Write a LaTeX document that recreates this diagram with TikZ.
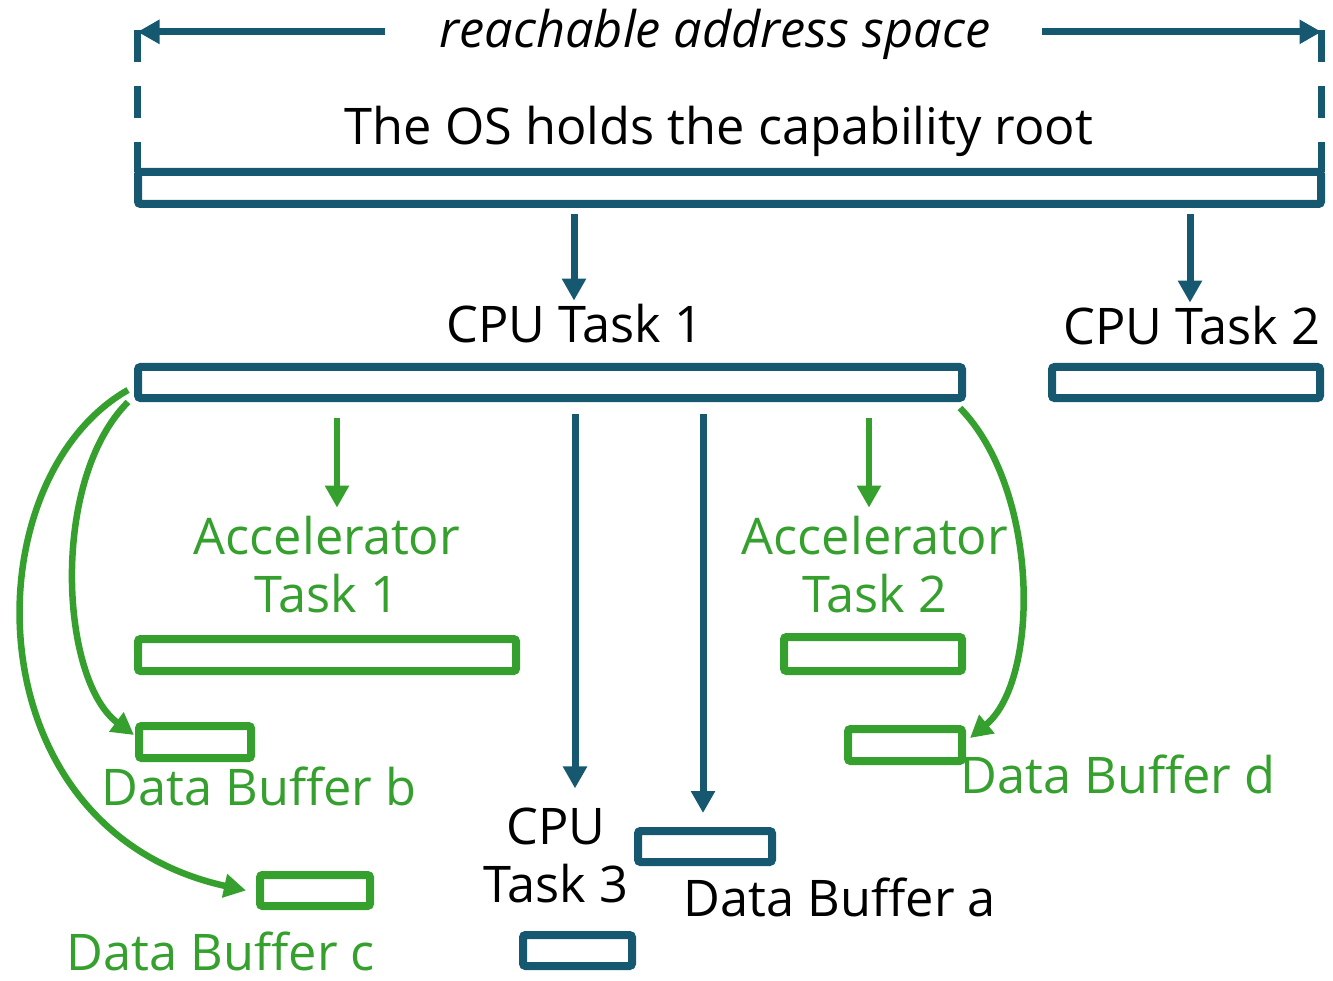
\documentclass[tikz,border=0pt]{standalone}
\usepackage{fontspec}
\setmainfont{Open Sans}
\usetikzlibrary{arrows.meta,calc}
\definecolor{capblue}{HTML}{155870}
\definecolor{capgreen}{HTML}{35A02E}
\begin{document}
\begin{tikzpicture}[x=1pt,y=-1pt,
  font=\fontsize{50.5}{58}\selectfont,
  box/.style={draw, line width=8pt, rounded corners=2.5pt, inner sep=0pt, outer sep=0pt},
  bbox/.style={box, draw=capblue},
  gbox/.style={box, draw=capgreen},
  lbl/.style={inner sep=0pt, outer sep=0pt, align=center, anchor=base},
  glbl/.style={lbl, text=capgreen},
  tip/.style={-{Triangle[length=22pt,width=23pt]}},
  barrow/.style={draw=capblue, line width=7pt, tip},
  garrow/.style={draw=capgreen, line width=6.5pt, tip},
  bracket/.style={draw=capblue, line width=7.5pt, dash pattern=on 32pt off 24pt}]

\fill[white] (0,0) rectangle (1333,981);
\useasboundingbox (0,0) rectangle (1333,981);

% capability root held by the OS
\node[bbox, minimum width=1183pt, minimum height=32pt] (os) at (729.5,188) {};
\node[lbl] (ostext) at (719,145) {The OS holds the capability root};

% reachable address space bracket
\node[lbl] (reach) at (715,48) {\itshape reachable address space};
\coordinate (bl) at (137.5,30);
\coordinate (br) at (1321.5,30);
\draw[bracket] (bl) -- (bl |- os.north);
\draw[bracket] (br) -- (br |- os.north);
\draw[barrow] ([yshift=3pt]reach.west -| 385,0) -- ([yshift=3pt]bl |- reach.west);
\draw[barrow] ([yshift=3pt]reach.east -| 1042,0) -- ([yshift=3pt]br |- reach.east);

% CPU tasks
\node[lbl] (cpu1lbl) at (575,343) {CPU Task 1};
\node[lbl] (cpu2lbl) at (1192,345) {CPU Task 2};
\node[bbox, minimum width=824pt, minimum height=31pt] (cpu1) at (550,382.5) {};
\node[bbox, minimum width=268pt, minimum height=31pt] (cpu2) at (1186,382.5) {};
\draw[barrow, shorten <=10pt, shorten >=4pt] ([xshift=-1pt]os.south -| cpu1lbl.north) -- ([xshift=-1pt]cpu1lbl.north);
\draw[barrow, shorten <=10pt, shorten >=4pt] ([xshift=-2pt]os.south -| cpu2lbl.north) -- ([xshift=-2pt]cpu2lbl.north);

% accelerator tasks (base anchor sits on the last line)
\node[glbl] (acc1lbl) at (327,612) {Accelerator\\Task 1};
\node[glbl] (acc2lbl) at (875,612) {Accelerator\\Task 2};
\node[gbox, minimum width=378pt, minimum height=32pt] (acc1) at (327,655) {};
\node[gbox, minimum width=178pt, minimum height=34pt] (acc2) at (873,654) {};
\draw[garrow, shorten <=20pt, shorten >=8pt] ([xshift=10pt]cpu1.south -| acc1lbl.north) -- ([xshift=10pt]acc1lbl.north);
\draw[garrow, shorten <=20pt, shorten >=8pt] ([xshift=-6pt]cpu1.south -| acc2lbl.north) -- ([xshift=-6pt]acc2lbl.north);

% CPU task 3 and data buffer a
\node[lbl] (cpu3lbl) at (556,902) {CPU\\Task 3};
\node[bbox, minimum width=109pt, minimum height=31pt] (cpu3) at (577.5,950.5) {};
\node[bbox, minimum width=134pt, minimum height=31pt] (dba) at (705,846.5) {};
\node[lbl] (dbalbl) at (840,916) {Data Buffer a};
\draw[barrow, shorten <=16pt, shorten >=19pt] (cpu1.south -| cpu1lbl.north) -- (cpu3lbl.north -| cpu1lbl.north);
\draw[barrow, shorten <=16pt, shorten >=18pt] ([xshift=-2pt]cpu1.south -| dba.north) -- ([xshift=-2pt]dba.north);

% data buffers b, c, d
\node[gbox, minimum width=112pt, minimum height=32pt] (dbb) at (195,742) {};
\node[glbl] (dbblbl) at (259,805) {Data Buffer b};
\node[gbox, minimum width=110pt, minimum height=31pt] (dbc) at (315,890.5) {};
\node[glbl] (dbclbl) at (221,970) {Data Buffer c};
\node[gbox, minimum width=114pt, minimum height=32pt] (dbd) at (905,745) {};
\node[glbl] (dbdlbl) at (1118,793) {Data Buffer d};

\draw[garrow] ($(cpu1.south west)+(-10,4)$) .. controls (50,480) and (60,680) .. ($(dbb.west)+(-5,-7)$);
\draw[garrow] ($(cpu1.south west)+(-10,-8)$) .. controls (-30,480) and (-30,830) .. ($(dbc.west)+(-14,0)$);
\draw[garrow] ($(cpu1.south east)+(-2,10)$) .. controls (1040,490) and (1040,680) .. ($(dbd.east)+(8,-7)$);
\end{tikzpicture}
\end{document}
